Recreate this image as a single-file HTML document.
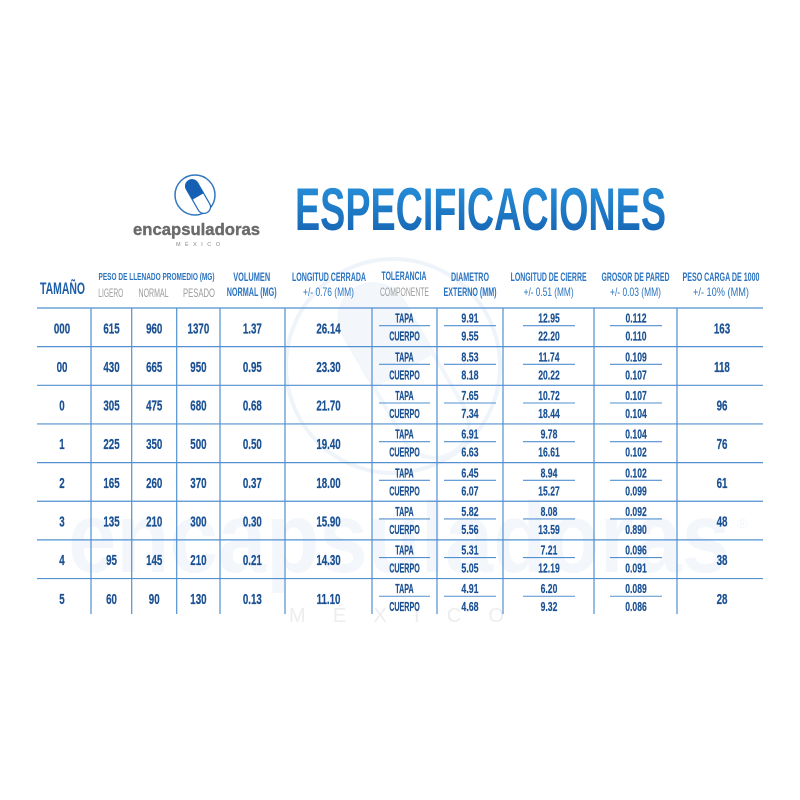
<!DOCTYPE html>
<html><head><meta charset="utf-8"><style>
html,body{margin:0;padding:0;background:#fff;}
svg{display:block;}
text{font-family:"Liberation Sans",Arial,sans-serif;}
.m{font-size:15px;font-weight:bold;fill:#1b5193;text-anchor:middle;stroke:#1b5193;stroke-width:0.25;}
.s{font-size:13px;font-weight:bold;fill:#1b5193;text-anchor:middle;stroke:#1b5193;stroke-width:0.2;}
.h{font-size:12px;font-weight:bold;fill:#2a73c0;text-anchor:middle;}
.g{font-size:12px;fill:#9a9a9a;text-anchor:middle;}
</style></head><body>
<svg width="800" height="800" viewBox="0 0 800 800" xmlns="http://www.w3.org/2000/svg">
<defs>
<linearGradient id="tg" x1="0" y1="0" x2="0" y2="1">
<stop offset="0" stop-color="#2a95de"/><stop offset="1" stop-color="#145fae"/>
</linearGradient>
<clipPath id="lh"><rect x="-20" y="-8" width="20" height="16"/></clipPath>
<clipPath id="wh"><rect x="-100" y="-40" width="100" height="80"/></clipPath>
</defs>
<rect width="800" height="800" fill="#fff"/>

<!-- watermark -->
<circle cx="393" cy="366" r="107" fill="none" stroke="#eef4fa" stroke-width="4"/>
<g transform="translate(404,371) rotate(60)">
<rect x="-95" y="-34" width="190" height="68" rx="34" fill="none" stroke="#f1f6fb" stroke-width="4"/>
<rect x="-95" y="-34" width="190" height="68" rx="34" fill="#f3f7fc" clip-path="url(#wh)"/>
</g>
<text x="68" y="572" textLength="662" lengthAdjust="spacingAndGlyphs" style="font-size:100px;font-weight:bold;fill:#f3f7fc;">encapsuladoras</text>
<text x="737" y="528" style="font-size:14px;fill:#f1f5fb;">®</text>
<text x="289" y="622" textLength="215" lengthAdjust="spacing" style="font-size:20px;fill:#ededed;">MÉXICO</text>

<!-- logo -->
<circle cx="195" cy="195" r="20" fill="none" stroke="#2f78c0" stroke-width="1.5"/>
<g transform="translate(198,196.5) rotate(60)">
<rect x="-18.5" y="-6.5" width="37" height="13" rx="6.5" fill="#fff" stroke="#1f6cbb" stroke-width="1.2"/>
<rect x="-18.5" y="-6.5" width="37" height="13" rx="6.5" fill="#1560b3" clip-path="url(#lh)"/>
</g>
<text x="133" y="235" textLength="127" lengthAdjust="spacingAndGlyphs" style="font-size:17px;font-weight:bold;fill:#6b6b6b;stroke:#6b6b6b;stroke-width:0.4;">encapsuladoras</text>
<text x="176" y="246" textLength="44" lengthAdjust="spacing" style="font-size:5.5px;fill:#888;">MÉXICO</text>

<!-- title -->
<text x="295" y="230" textLength="371" lengthAdjust="spacingAndGlyphs" style="font-size:60px;font-weight:bold;fill:url(#tg);">ESPECIFICACIONES</text>

<!-- headers -->
<text x="62.5" y="294" textLength="45" lengthAdjust="spacingAndGlyphs" style="font-size:17px;font-weight:bold;fill:#1d5ea8;text-anchor:middle;">TAMAÑO</text>
<text class="h" x="156.5" y="280" textLength="116" lengthAdjust="spacingAndGlyphs" style="font-size:10px;">PESO DE LLENADO PROMEDIO (MG)</text>
<text class="g" x="110.8" y="297" textLength="25" lengthAdjust="spacingAndGlyphs">LIGERO</text>
<text class="g" x="153.5" y="297" textLength="30" lengthAdjust="spacingAndGlyphs">NORMAL</text>
<text class="g" x="199" y="297" textLength="32" lengthAdjust="spacingAndGlyphs">PESADO</text>
<text class="h" x="251.7" y="281" textLength="37" lengthAdjust="spacingAndGlyphs">VOLUMEN</text>
<text class="h" x="251.7" y="296" textLength="50" lengthAdjust="spacingAndGlyphs">NORMAL (MG)</text>
<text class="h" x="329" y="281" textLength="74" lengthAdjust="spacingAndGlyphs">LONGITUD CERRADA</text>
<text class="h" x="328.5" y="296" textLength="51" lengthAdjust="spacingAndGlyphs" style="font-weight:normal;">+/- 0.76 (MM)</text>
<text class="h" x="404" y="280" textLength="45" lengthAdjust="spacingAndGlyphs">TOLERANCIA</text>
<text class="g" x="404.5" y="296" textLength="49" lengthAdjust="spacingAndGlyphs">COMPONENTE</text>
<text class="h" x="470" y="281" textLength="38" lengthAdjust="spacingAndGlyphs">DIAMETRO</text>
<text class="h" x="470" y="296" textLength="53" lengthAdjust="spacingAndGlyphs">EXTERNO (MM)</text>
<text class="h" x="548.6" y="281" textLength="76" lengthAdjust="spacingAndGlyphs">LONGITUD DE CIERRE</text>
<text class="h" x="548.6" y="296" textLength="50" lengthAdjust="spacingAndGlyphs" style="font-weight:normal;">+/- 0.51 (MM)</text>
<text class="h" x="635.5" y="281" textLength="68" lengthAdjust="spacingAndGlyphs">GROSOR DE PARED</text>
<text class="h" x="635.5" y="296" textLength="51" lengthAdjust="spacingAndGlyphs" style="font-weight:normal;">+/- 0.03 (MM)</text>
<text class="h" x="721" y="281" textLength="77" lengthAdjust="spacingAndGlyphs">PESO CARGA DE 1000</text>
<text class="h" x="721" y="296" textLength="56" lengthAdjust="spacingAndGlyphs" style="font-weight:normal;">+/- 10% (MM)</text>

<!-- grid -->
<g stroke="#5290cf" stroke-width="1.2" fill="none">
<line x1="37" y1="308" x2="763" y2="308"/>
<line x1="37" y1="346.65" x2="763" y2="346.65"/>
<line x1="37" y1="385.3" x2="763" y2="385.3"/>
<line x1="37" y1="423.95" x2="763" y2="423.95"/>
<line x1="37" y1="462.6" x2="763" y2="462.6"/>
<line x1="37" y1="501.25" x2="763" y2="501.25"/>
<line x1="37" y1="539.9" x2="763" y2="539.9"/>
<line x1="37" y1="578.55" x2="763" y2="578.55"/>
<line x1="91" y1="308" x2="91" y2="614"/>
<line x1="131.7" y1="308" x2="131.7" y2="614"/>
<line x1="176.7" y1="308" x2="176.7" y2="614"/>
<line x1="220" y1="308" x2="220" y2="614"/>
<line x1="285" y1="308" x2="285" y2="614"/>
<line x1="372" y1="308" x2="372" y2="614"/>
<line x1="437" y1="308" x2="437" y2="614"/>
<line x1="503" y1="308" x2="503" y2="614"/>
<line x1="594" y1="308" x2="594" y2="614"/>
<line x1="677" y1="308" x2="677" y2="614"/>
</g>
<g stroke="#5290cf" stroke-width="1.1">
<path d="M379 325.7H430M444 325.7H496M523 325.7H575M610 325.7H662"/>
<path d="M379 364.35H430M444 364.35H496M523 364.35H575M610 364.35H662"/>
<path d="M379 403H430M444 403H496M523 403H575M610 403H662"/>
<path d="M379 441.65H430M444 441.65H496M523 441.65H575M610 441.65H662"/>
<path d="M379 480.3H430M444 480.3H496M523 480.3H575M610 480.3H662"/>
<path d="M379 518.95H430M444 518.95H496M523 518.95H575M610 518.95H662"/>
<path d="M379 557.6H430M444 557.6H496M523 557.6H575M610 557.6H662"/>
<path d="M379 596.25H430M444 596.25H496M523 596.25H575M610 596.25H662"/>
</g>

<!-- main columns -->
<g class="m" transform="translate(62,0) scale(.65,1)">
<text x="0" y="333.3">000</text><text x="0" y="371.95">00</text><text x="0" y="410.6">0</text><text x="0" y="449.25">1</text><text x="0" y="487.9">2</text><text x="0" y="526.55">3</text><text x="0" y="565.2">4</text><text x="0" y="603.85">5</text>
</g>
<g class="m" transform="translate(111.5,0) scale(.65,1)">
<text x="0" y="333.3">615</text><text x="0" y="371.95">430</text><text x="0" y="410.6">305</text><text x="0" y="449.25">225</text><text x="0" y="487.9">165</text><text x="0" y="526.55">135</text><text x="0" y="565.2">95</text><text x="0" y="603.85">60</text>
</g>
<g class="m" transform="translate(154.2,0) scale(.65,1)">
<text x="0" y="333.3">960</text><text x="0" y="371.95">665</text><text x="0" y="410.6">475</text><text x="0" y="449.25">350</text><text x="0" y="487.9">260</text><text x="0" y="526.55">210</text><text x="0" y="565.2">145</text><text x="0" y="603.85">90</text>
</g>
<g class="m" transform="translate(198.4,0) scale(.65,1)">
<text x="0" y="333.3">1370</text><text x="0" y="371.95">950</text><text x="0" y="410.6">680</text><text x="0" y="449.25">500</text><text x="0" y="487.9">370</text><text x="0" y="526.55">300</text><text x="0" y="565.2">210</text><text x="0" y="603.85">130</text>
</g>
<g class="m" transform="translate(252.3,0) scale(.65,1)">
<text x="0" y="333.3">1.37</text><text x="0" y="371.95">0.95</text><text x="0" y="410.6">0.68</text><text x="0" y="449.25">0.50</text><text x="0" y="487.9">0.37</text><text x="0" y="526.55">0.30</text><text x="0" y="565.2">0.21</text><text x="0" y="603.85">0.13</text>
</g>
<g class="m" transform="translate(328.5,0) scale(.65,1)">
<text x="0" y="333.3">26.14</text><text x="0" y="371.95">23.30</text><text x="0" y="410.6">21.70</text><text x="0" y="449.25">19.40</text><text x="0" y="487.9">18.00</text><text x="0" y="526.55">15.90</text><text x="0" y="565.2">14.30</text><text x="0" y="603.85">11.10</text>
</g>
<g class="m" transform="translate(722,0) scale(.65,1)">
<text x="0" y="333.3">163</text><text x="0" y="371.95">118</text><text x="0" y="410.6">96</text><text x="0" y="449.25">76</text><text x="0" y="487.9">61</text><text x="0" y="526.55">48</text><text x="0" y="565.2">38</text><text x="0" y="603.85">28</text>
</g>

<!-- sub columns -->
<g class="s" transform="translate(404.5,0) scale(.55,1)">
<text x="0" y="322.7">TAPA</text><text x="0" y="340.7">CUERPO</text>
<text x="0" y="361.35">TAPA</text><text x="0" y="379.35">CUERPO</text>
<text x="0" y="400">TAPA</text><text x="0" y="418">CUERPO</text>
<text x="0" y="438.65">TAPA</text><text x="0" y="456.65">CUERPO</text>
<text x="0" y="477.3">TAPA</text><text x="0" y="495.3">CUERPO</text>
<text x="0" y="515.95">TAPA</text><text x="0" y="533.95">CUERPO</text>
<text x="0" y="554.6">TAPA</text><text x="0" y="572.6">CUERPO</text>
<text x="0" y="593.25">TAPA</text><text x="0" y="611.25">CUERPO</text>
</g>
<g class="s" transform="translate(470,0) scale(.68,1)">
<text x="0" y="322.7">9.91</text><text x="0" y="340.7">9.55</text>
<text x="0" y="361.35">8.53</text><text x="0" y="379.35">8.18</text>
<text x="0" y="400">7.65</text><text x="0" y="418">7.34</text>
<text x="0" y="438.65">6.91</text><text x="0" y="456.65">6.63</text>
<text x="0" y="477.3">6.45</text><text x="0" y="495.3">6.07</text>
<text x="0" y="515.95">5.82</text><text x="0" y="533.95">5.56</text>
<text x="0" y="554.6">5.31</text><text x="0" y="572.6">5.05</text>
<text x="0" y="593.25">4.91</text><text x="0" y="611.25">4.68</text>
</g>
<g class="s" transform="translate(549,0) scale(.66,1)">
<text x="0" y="322.7">12.95</text><text x="0" y="340.7">22.20</text>
<text x="0" y="361.35">11.74</text><text x="0" y="379.35">20.22</text>
<text x="0" y="400">10.72</text><text x="0" y="418">18.44</text>
<text x="0" y="438.65">9.78</text><text x="0" y="456.65">16.61</text>
<text x="0" y="477.3">8.94</text><text x="0" y="495.3">15.27</text>
<text x="0" y="515.95">8.08</text><text x="0" y="533.95">13.59</text>
<text x="0" y="554.6">7.21</text><text x="0" y="572.6">12.19</text>
<text x="0" y="593.25">6.20</text><text x="0" y="611.25">9.32</text>
</g>
<g class="s" transform="translate(636,0) scale(.66,1)">
<text x="0" y="322.7">0.112</text><text x="0" y="340.7">0.110</text>
<text x="0" y="361.35">0.109</text><text x="0" y="379.35">0.107</text>
<text x="0" y="400">0.107</text><text x="0" y="418">0.104</text>
<text x="0" y="438.65">0.104</text><text x="0" y="456.65">0.102</text>
<text x="0" y="477.3">0.102</text><text x="0" y="495.3">0.099</text>
<text x="0" y="515.95">0.092</text><text x="0" y="533.95">0.890</text>
<text x="0" y="554.6">0.096</text><text x="0" y="572.6">0.091</text>
<text x="0" y="593.25">0.089</text><text x="0" y="611.25">0.086</text>
</g>
</svg>
</body></html>
